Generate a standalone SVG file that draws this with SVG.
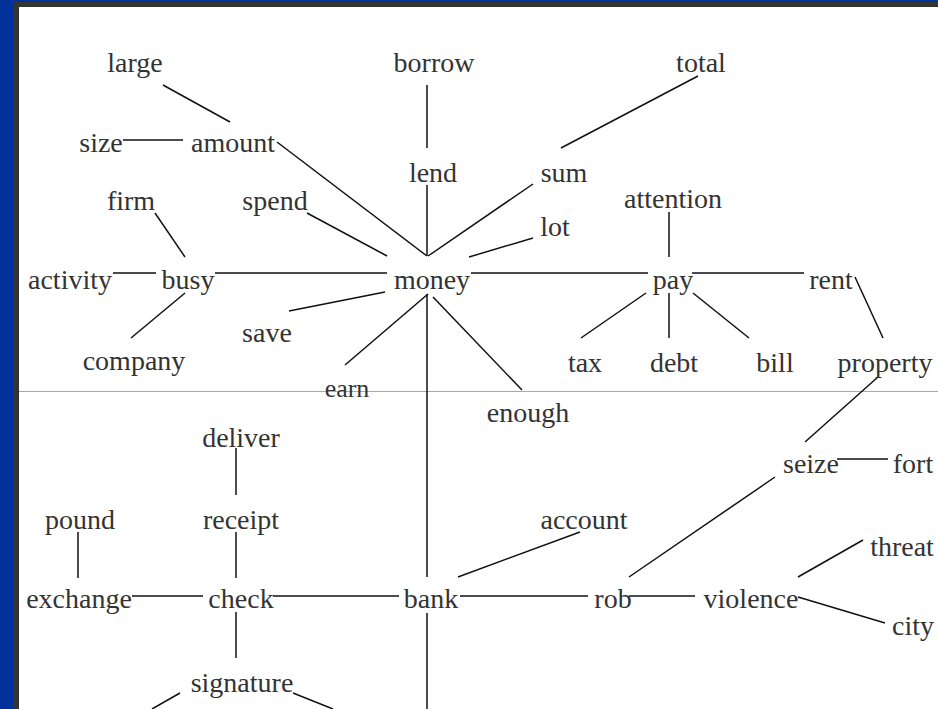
<svg xmlns="http://www.w3.org/2000/svg" width="938" height="709" viewBox="0 0 938 709">
  <style>
    .word { font-family: "Liberation Serif", "Times New Roman", serif; font-size: 28px; fill: #333; text-anchor: middle; }
    .small { font-size: 26px; }
    .link { stroke: #111; stroke-width: 1.5; fill: none; stroke-linecap: butt; }
  </style>

  <!-- slide frame -->
  <rect x="0" y="0" width="938" height="709" fill="#00309a"/>
  <rect x="13" y="2" width="925" height="707" fill="#333333"/>
  <rect x="19" y="7" width="919" height="702" fill="#ffffff"/>

  <!-- divider rule -->
  <line x1="19" y1="391.5" x2="938" y2="391.5" stroke="#e6a038" stroke-width="1"/>

  <!-- connectors -->
  <g id="connectors" class="link">
    <line x1="163" y1="85" x2="230" y2="122"/>
    <line x1="123" y1="140" x2="183" y2="140"/>
    <line x1="427" y1="85" x2="427" y2="148"/>
    <line x1="427" y1="185" x2="427" y2="256"/>
    <line x1="277" y1="142" x2="427" y2="256"/>
    <line x1="307" y1="213" x2="387" y2="256"/>
    <line x1="533" y1="184" x2="428" y2="256"/>
    <line x1="698" y1="76" x2="561" y2="148"/>
    <line x1="469" y1="257" x2="533" y2="238"/>
    <line x1="669" y1="212" x2="669" y2="257"/>
    <line x1="155" y1="213" x2="185" y2="257"/>
    <line x1="113" y1="273" x2="156" y2="273"/>
    <line x1="215" y1="273" x2="387" y2="273"/>
    <line x1="471" y1="273" x2="648" y2="273"/>
    <line x1="692" y1="273" x2="804" y2="273"/>
    <line x1="185" y1="293" x2="131" y2="338"/>
    <line x1="385" y1="292" x2="289" y2="311"/>
    <line x1="428" y1="294" x2="345" y2="365"/>
    <line x1="427" y1="294" x2="427" y2="577"/>
    <line x1="433" y1="297" x2="522" y2="390"/>
    <line x1="646" y1="293" x2="581" y2="338"/>
    <line x1="669" y1="293" x2="669" y2="338"/>
    <line x1="693" y1="293" x2="749" y2="338"/>
    <line x1="855" y1="277" x2="883" y2="338"/>
    <line x1="878" y1="377" x2="805" y2="442"/>
    <line x1="837" y1="459" x2="888" y2="459"/>
    <line x1="775" y1="477" x2="629" y2="577"/>
    <line x1="236" y1="448" x2="236" y2="495"/>
    <line x1="78" y1="532" x2="78" y2="578"/>
    <line x1="236" y1="532" x2="236" y2="578"/>
    <line x1="132" y1="596" x2="203" y2="596"/>
    <line x1="273" y1="596" x2="399" y2="596"/>
    <line x1="460" y1="596" x2="588" y2="596"/>
    <line x1="629" y1="596" x2="695" y2="596"/>
    <line x1="458" y1="577" x2="580" y2="532"/>
    <line x1="798" y1="577" x2="863" y2="540"/>
    <line x1="798" y1="597" x2="885" y2="623"/>
    <line x1="236" y1="612" x2="236" y2="658"/>
    <line x1="180" y1="693" x2="152" y2="709"/>
    <line x1="293" y1="693" x2="333" y2="709"/>
    <line x1="427" y1="613" x2="427" y2="709"/>
  </g>

  <!-- word nodes -->
  <g id="large"><text class="word" x="135" y="72">large</text></g>
  <g id="borrow"><text class="word" x="434" y="72">borrow</text></g>
  <g id="total"><text class="word" x="701" y="72">total</text></g>
  <g id="size"><text class="word" x="101" y="152">size</text></g>
  <g id="amount"><text class="word" x="233" y="152">amount</text></g>
  <g id="lend"><text class="word" x="433" y="182">lend</text></g>
  <g id="sum"><text class="word" x="564" y="182">sum</text></g>
  <g id="firm"><text class="word" x="131" y="210">firm</text></g>
  <g id="spend"><text class="word" x="275" y="210">spend</text></g>
  <g id="attention"><text class="word" x="673" y="208">attention</text></g>
  <g id="lot"><text class="word" x="555" y="236">lot</text></g>
  <g id="activity"><text class="word" x="70" y="289">activity</text></g>
  <g id="busy"><text class="word" x="188" y="289">busy</text></g>
  <g id="money"><text class="word" x="432" y="289">money</text></g>
  <g id="pay"><text class="word" x="673" y="289">pay</text></g>
  <g id="rent"><text class="word" x="831" y="289">rent</text></g>
  <g id="save"><text class="word" x="267" y="342">save</text></g>
  <g id="company"><text class="word" x="134" y="370">company</text></g>
  <g id="tax"><text class="word" x="585" y="372">tax</text></g>
  <g id="debt"><text class="word" x="674" y="372">debt</text></g>
  <g id="bill"><text class="word" x="775" y="372">bill</text></g>
  <g id="property"><text class="word" x="885" y="372">property</text></g>
  <g id="earn"><text class="word small" x="347" y="397">earn</text></g>
  <g id="enough"><text class="word" x="528" y="422">enough</text></g>
  <g id="deliver"><text class="word" x="241" y="447">deliver</text></g>
  <g id="seize"><text class="word" x="811" y="473">seize</text></g>
  <g id="fort"><text class="word" x="913" y="473">fort</text></g>
  <g id="pound"><text class="word" x="80" y="529">pound</text></g>
  <g id="receipt"><text class="word" x="241" y="529">receipt</text></g>
  <g id="account"><text class="word" x="584" y="529">account</text></g>
  <g id="threat"><text class="word" x="902" y="556">threat</text></g>
  <g id="exchange"><text class="word" x="79" y="608">exchange</text></g>
  <g id="check"><text class="word" x="241" y="608">check</text></g>
  <g id="bank"><text class="word" x="431" y="608">bank</text></g>
  <g id="rob"><text class="word" x="613" y="608">rob</text></g>
  <g id="violence"><text class="word" x="751" y="608">violence</text></g>
  <g id="city"><text class="word" x="913" y="635">city</text></g>
  <g id="signature"><text class="word" x="242" y="692">signature</text></g>
</svg>
